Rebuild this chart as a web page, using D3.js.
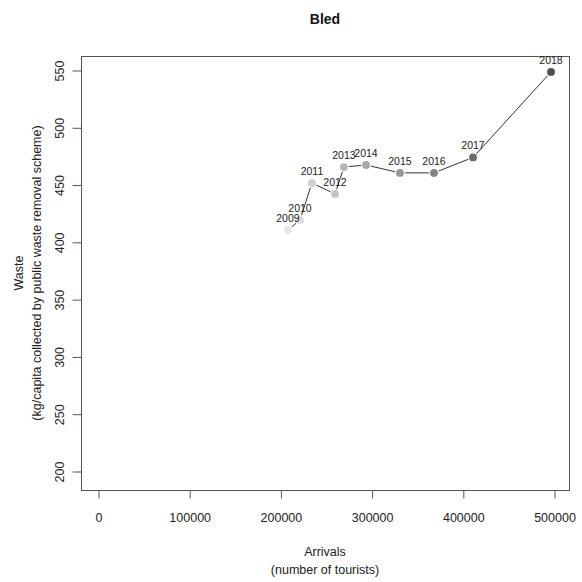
<!DOCTYPE html>
<html>
<head>
<meta charset="utf-8">
<script src="https://cdn.jsdelivr.net/npm/d3@7"></script>
<style>
  html, body { margin: 0; padding: 0; background: #fff; }
  svg { display: block; font-family: "Liberation Sans", Arial, sans-serif; }
</style>
</head>
<body>
<svg id="chart" width="582" height="582"></svg>
<script>
// Bled: tourist arrivals vs. municipal waste per capita, 2009–2018
const years    = [2009, 2010, 2011, 2012, 2013, 2014, 2015, 2016, 2017, 2018];
const arrivals = [208300, 221500, 234600, 259900, 269700, 293900, 331100, 368400, 411200, 496700];
const waste    = [410.3, 419.1, 451.4, 441.8, 465.3, 467.1, 460.2, 460.2, 473.7, 548.3];
const xTicks   = [0, 100000, 200000, 300000, 400000, 500000];
const yTicks   = [200, 250, 300, 350, 400, 450, 500, 550];

// grey ramp from light (earliest year) to dark (latest year)
const greys = [230, 219, 207, 195, 181, 167, 150, 131, 108, 77];

const svg = d3.select("#chart");
const box = { left: 81, right: 569, top: 56, bottom: 490 };

const x = d3.scaleLinear().domain([0, 500000]).range([98, 554]);
const y = d3.scaleLinear().domain([200, 550]).range([471, 70]);

const ink = "#222";
const frame = "#555";

// plot frame
svg.append("rect")
  .attr("x", box.left + 0.5).attr("y", box.top + 0.5)
  .attr("width", box.right - box.left).attr("height", box.bottom - box.top)
  .attr("fill", "none").attr("stroke", frame).attr("stroke-width", 1);

// x axis
const xAxis = d3.axisBottom(x).tickValues(xTicks).tickFormat(d3.format("d"))
  .tickSize(8).tickPadding(15);
const gx = svg.append("g").attr("transform", `translate(0.5,${box.bottom + 0.5})`).call(xAxis);
gx.select(".domain").remove();
gx.selectAll("line").attr("stroke", frame);
gx.selectAll("text").attr("font-size", 12.5).attr("fill", ink);

// y axis with rotated labels
const yAxis = d3.axisLeft(y).tickValues(yTicks).tickSize(9).tickPadding(5);
const gy = svg.append("g").attr("transform", `translate(${box.left + 0.5},0.5)`).call(yAxis);
gy.select(".domain").remove();
gy.selectAll("line").attr("stroke", frame);
gy.selectAll("text")
  .attr("font-size", 12.5).attr("fill", ink)
  .attr("text-anchor", "middle").attr("x", null).attr("dy", null)
  .attr("transform", "translate(-22,0) rotate(-90)")
  .attr("dominant-baseline", "central");

// title
svg.append("text").attr("x", (box.left + box.right) / 2).attr("y", 24)
  .attr("text-anchor", "middle").attr("font-size", 14).attr("font-weight", "bold")
  .attr("fill", "#111").text("Bled");

// axis titles
svg.append("text").attr("x", (box.left + box.right) / 2).attr("y", 556)
  .attr("text-anchor", "middle").attr("font-size", 12.5).attr("fill", ink).text("Arrivals");
svg.append("text").attr("x", (box.left + box.right) / 2).attr("y", 574)
  .attr("text-anchor", "middle").attr("font-size", 12.5).attr("fill", ink).text("(number of tourists)");

const cy = (box.top + box.bottom) / 2;
svg.append("text").attr("transform", `translate(23,${cy}) rotate(-90)`)
  .attr("text-anchor", "middle").attr("font-size", 12.5).attr("fill", ink).text("Waste");
svg.append("text").attr("transform", `translate(41,${cy}) rotate(-90)`)
  .attr("text-anchor", "middle").attr("font-size", 12.5).attr("fill", ink)
  .text("(kg/capita collected by public waste removal scheme)");

// points joined by segments that stop short of each marker
const pts = years.map((yr, i) => ({ yr, px: x(arrivals[i]), py: y(waste[i]), g: greys[i] }));
const gap = 5;
for (let i = 0; i < pts.length - 1; i++) {
  const a = pts[i], b = pts[i + 1];
  const dx = b.px - a.px, dy = b.py - a.py;
  const len = Math.hypot(dx, dy);
  if (len <= 2 * gap) continue;
  const ux = dx / len, uy = dy / len;
  svg.append("line")
    .attr("x1", a.px + ux * gap).attr("y1", a.py + uy * gap)
    .attr("x2", b.px - ux * gap).attr("y2", b.py - uy * gap)
    .attr("stroke", "#333").attr("stroke-width", 1);
}

svg.append("g").selectAll("circle").data(pts).join("circle")
  .attr("cx", d => d.px).attr("cy", d => d.py).attr("r", 3.9)
  .attr("fill", d => `rgb(${d.g},${d.g},${d.g})`);

svg.append("g").selectAll("text").data(pts).join("text")
  .attr("x", d => d.px).attr("y", d => d.py - 8)
  .attr("text-anchor", "middle").attr("font-size", 10.5).attr("fill", ink)
  .text(d => d.yr);
</script>
</body>
</html>
